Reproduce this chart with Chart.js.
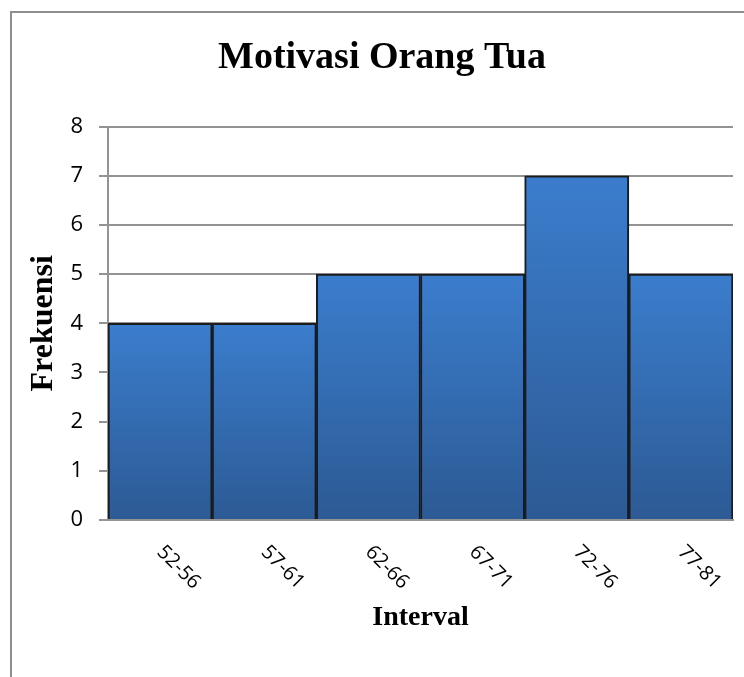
<!DOCTYPE html>
<html>
<head>
<meta charset="utf-8">
<script src="https://cdn.jsdelivr.net/npm/chart.js@4"></script>
<style>
  html, body { margin: 0; padding: 0; background: #ffffff; }
  canvas { display: block; }
</style>
</head>
<body>
<canvas id="chart" width="744" height="677"></canvas>
<script>
// Frequency table: score intervals and how many respondents fall in each
const intervals = ['52-56', '57-61', '62-66', '67-71', '72-76', '77-81'];
const frequencies = [4, 4, 5, 5, 7, 5];
const yTicks = [0, 1, 2, 3, 4, 5, 6, 7, 8];

const chartTitle = 'Motivasi Orang Tua';
const xTitle = 'Interval';
const yTitle = 'Frekuensi';

const barTop = '#3b7dcd';
const barBottom = '#2c5a94';
const gridGray = '#939393';

// Vertical gradient per bar, from its top down to the baseline
function barFill(ctx) {
  const chart = ctx.chart;
  const yScale = chart.scales.y;
  if (!chart.chartArea || !yScale || ctx.raw == null) return barTop;
  const top = yScale.getPixelForValue(ctx.raw);
  const bottom = yScale.getPixelForValue(0);
  const g = chart.ctx.createLinearGradient(0, top, 0, bottom);
  g.addColorStop(0, barTop);
  g.addColorStop(1, barBottom);
  return g;
}

// Thin frame around the whole chart
const framePlugin = {
  id: 'frame',
  beforeDraw(chart) {
    const c = chart.ctx;
    c.save();
    c.fillStyle = '#ffffff';
    c.fillRect(0, 0, chart.width, chart.height);
    c.strokeStyle = '#8e8e8e';
    c.lineWidth = 2;
    c.strokeRect(11, 12, chart.width + 40, chart.height + 40);
    c.restore();
  }
};

// Soft shadow behind the bars
const shadowPlugin = {
  id: 'barShadow',
  beforeDatasetsDraw(chart) {
    const c = chart.ctx;
    c.save();
    c.shadowColor = 'rgba(0,0,0,0.28)';
    c.shadowBlur = 5;
    c.shadowOffsetX = 1;
    c.shadowOffsetY = 1;
  },
  afterDatasetsDraw(chart) {
    chart.ctx.restore();
  }
};

// Category labels slanted 45 degrees downward to the right
const slantedLabels = {
  id: 'slantedLabels',
  afterDraw(chart) {
    const xScale = chart.scales.x;
    const c = chart.ctx;
    c.save();
    c.fillStyle = '#000000';
    c.font = '20px "Open Sans"';
    c.textAlign = 'left';
    c.textBaseline = 'middle';
    intervals.forEach((lab, i) => {
      const x = xScale.getPixelForValue(i);
      const y = chart.chartArea.bottom + 29;
      c.save();
      c.translate(x, y);
      c.rotate(Math.PI / 4);
      c.fillText(lab, 0, 0);
      c.restore();
    });
    c.restore();
  }
};

new Chart(document.getElementById('chart'), {
  type: 'bar',
  data: {
    labels: intervals,
    datasets: [{
      label: yTitle,
      data: frequencies,
      backgroundColor: barFill,
      borderColor: '#1e1e1e',
      borderWidth: 2,
      borderSkipped: 'bottom',
      categoryPercentage: 1.0,
      barPercentage: 1.0
    }]
  },
  options: {
    responsive: false,
    animation: false,
    devicePixelRatio: 1,
    layout: { padding: { left: 31, right: 11, top: 0, bottom: 0 } },
    plugins: {
      legend: { display: false },
      tooltip: { enabled: false },
      title: {
        display: true,
        text: chartTitle,
        color: '#000000',
        font: { family: '"Liberation Serif", "Times New Roman", serif', size: 38, weight: 'bold', lineHeight: 1.2 },
        padding: { top: 35, bottom: 46 }
      }
    },
    scales: {
      x: {
        type: 'category',
        grid: { display: false },
        border: { display: true, color: gridGray, width: 2 },
        ticks: { display: false },
        title: {
          display: true,
          text: xTitle,
          color: '#000000',
          font: { family: '"Liberation Serif", "Times New Roman", serif', size: 28, weight: 'bold', lineHeight: 1.2 },
          padding: { top: 0, bottom: 42 }
        },
        afterFit(scale) { scale.height = 157; }
      },
      y: {
        min: 0,
        max: 8,
        afterBuildTicks(scale) { scale.ticks = yTicks.map(v => ({ value: v })); },
        grid: {
          color: gridGray,
          lineWidth: 2,
          drawTicks: true,
          tickLength: 9,
          tickColor: gridGray,
          tickWidth: 2
        },
        border: { display: true, color: gridGray, width: 2 },
        ticks: {
          color: '#000000',
          padding: 16,
          font: { family: '"Open Sans", sans-serif', size: 22 }
        },
        title: {
          display: true,
          text: yTitle,
          color: '#000000',
          font: { family: '"Liberation Serif", "Times New Roman", serif', size: 32, weight: 'bold', lineHeight: 0.8 },
          padding: { top: 0, bottom: 0 }
        },
        afterFit(scale) { scale.width = 77; }
      }
    }
  },
  plugins: [framePlugin, shadowPlugin, slantedLabels]
});
</script>
</body>
</html>
